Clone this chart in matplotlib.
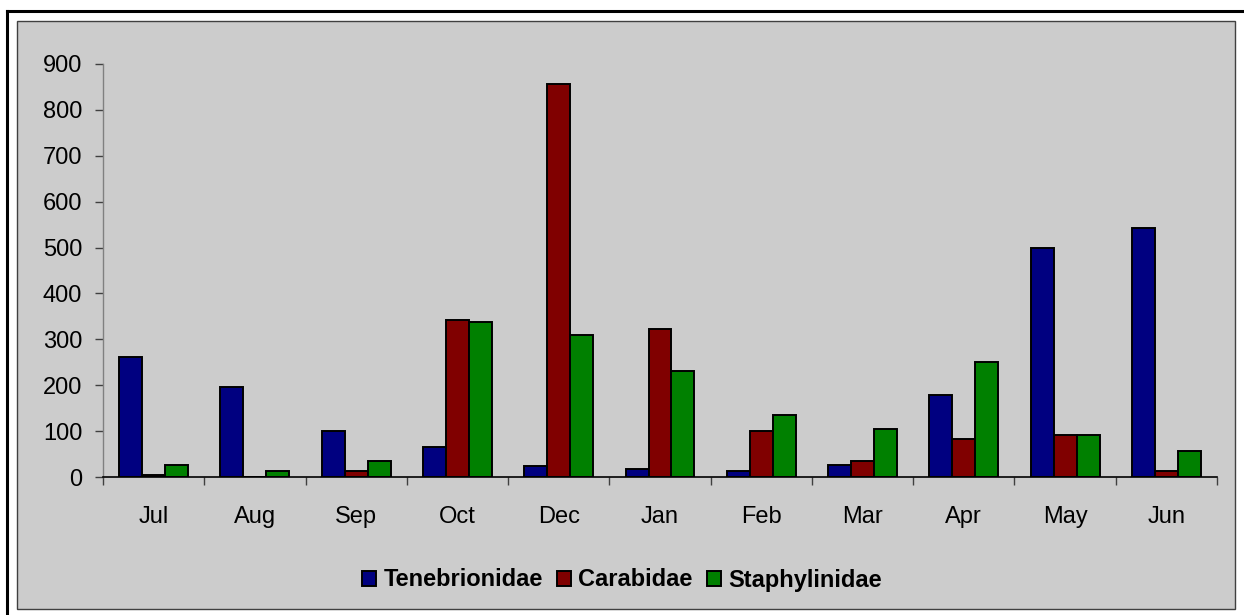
import numpy as np
import matplotlib
matplotlib.use("Agg")
import matplotlib.pyplot as plt
from matplotlib.patches import Rectangle
from matplotlib.lines import Line2D

#---Data:
months = ["Jul", "Aug", "Sep", "Oct", "Dec", "Jan", "Feb", "Mar", "Apr", "May", "Jun"]
tenebrionidae = [261, 196, 100, 65, 25, 18, 13, 26, 178, 500, 543]
carabidae = [4, 0, 14, 343, 856, 322, 100, 35, 82, 91, 14]
staphylinidae = [26, 14, 35, 338, 309, 230, 135, 104, 251, 91, 56]
series_names = ["Tenebrionidae", "Carabidae", "Staphylinidae"]
series_colors = ["#000080", "#800000", "#008000"]

plt.rcParams['font.family'] = ['Liberation Sans', 'DejaVu Sans']

W, H = 1244, 615
fig = plt.figure(figsize=(W / 100, H / 100), dpi=100)
fig.patch.set_facecolor("white")

#---Gray chart area and outer black frame (figure pixel coords):
def px_rect(x0, y0, x1, y1, **kw):
    return Rectangle((x0 / W, 1 - y1 / H), (x1 - x0) / W, (y1 - y0) / H,
                     transform=fig.transFigure, **kw)

fig.patches.append(px_rect(17, 21, 1235, 609, facecolor="#cccccc",
                           edgecolor="#404040", linewidth=1.0, zorder=-10))
fig.lines.append(Line2D([7 / W, 7 / W], [0, 1 - 11 / H], transform=fig.transFigure,
                        color="black", linewidth=2.2, zorder=-10))
fig.lines.append(Line2D([7 / W, 1], [1 - 11 / H, 1 - 11 / H], transform=fig.transFigure,
                        color="black", linewidth=2.2, zorder=-10))

#---Axes:
ax = fig.add_axes([103 / W, 1 - 477 / H, (1217 - 103) / W, (477 - 64) / H])
ax.set_facecolor("none")
ax.set_zorder(1)

x = np.arange(len(months))
bw = 0.227
for i, (vals, col, name) in enumerate(zip([tenebrionidae, carabidae, staphylinidae],
                                           series_colors, series_names)):
    ax.bar(x + (i - 1) * bw, vals, width=bw, color=col, edgecolor="black",
           linewidth=1.4, label=name, zorder=3)

ax.set_xlim(-0.5, len(months) - 0.5)
ax.set_ylim(0, 900)
ax.set_yticks(range(0, 901, 100))
ax.tick_params(axis="y", direction="out", length=6, width=1, color="#404040",
               pad=9, labelsize=17)
ax.set_xticks(x)
ax.set_xticklabels(months)
ax.tick_params(axis="x", which="major", length=0, pad=21, labelsize=17)
ax.set_xticks(np.arange(-0.5, len(months), 1), minor=True)
ax.tick_params(axis="x", which="minor", direction="out", length=6, width=1, color="#404040")

for s in ["top", "right"]:
    ax.spines[s].set_visible(False)
ax.spines["left"].set_color("#808080")
ax.spines["left"].set_linewidth(1.0)
ax.spines["bottom"].set_color("black")
ax.spines["bottom"].set_linewidth(1.2)
ax.spines["bottom"].set_zorder(4)

#---Legend at bottom:
leg = fig.legend(loc="center", bbox_to_anchor=(0.5, 1 - 580 / H), ncol=3, frameon=False,
                 prop={"weight": "bold", "size": 17}, handlelength=0.6, handleheight=0.6,
                 handletextpad=0.3, columnspacing=0.6, borderaxespad=0)
leg.set_zorder(5)

fig.savefig("out.png", dpi=100)
